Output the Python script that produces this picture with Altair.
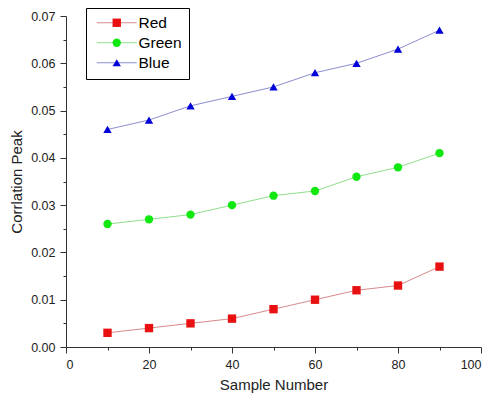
import altair as alt
import pandas as pd

samples = [10, 20, 30, 40, 50, 60, 70, 80, 90]
red = [0.003, 0.004, 0.005, 0.006, 0.008, 0.010, 0.012, 0.013, 0.017]
green = [0.026, 0.027, 0.028, 0.030, 0.032, 0.033, 0.036, 0.038, 0.041]
blue = [0.046, 0.048, 0.051, 0.053, 0.055, 0.058, 0.060, 0.063, 0.067]
series_names = ["Red", "Green", "Blue"]
line_colors = ["#d88a8a", "#8ee08e", "#8c8cd0"]
marker_colors = ["#e81010", "#10e810", "#0000d8"]
marker_shapes = ["square", "circle", "triangle-up"]

rows = []
for name, vals in zip(series_names, [red, green, blue]):
    for s, v in zip(samples, vals):
        rows.append({"sample": s, "value": v, "series": name, "line_series": name})
df = pd.DataFrame(rows)

FONT = "Liberation Sans"

x_vals = list(range(0, 101, 10))
y_vals = [round(i * 0.005, 3) for i in range(15)]

x_enc = alt.X(
    "sample:Q",
    scale=alt.Scale(domain=[0, 100], nice=False, zero=False),
    axis=alt.Axis(
        title="Sample Number",
        values=x_vals,
        labelExpr="datum.value % 20 === 0 ? datum.label : ''",
        tickSize={"condition": {"test": "datum.value % 20 !== 0", "value": 3}, "value": 6},
        grid=False,
        labelPadding=5,
        titlePadding=7,
    ),
)
y_enc = alt.Y(
    "value:Q",
    scale=alt.Scale(domain=[0, 0.07], nice=False),
    axis=alt.Axis(
        title="Corrlation Peak",
        values=y_vals,
        format=".2f",
        labelExpr="round(datum.value*1000) % 10 === 0 ? format(datum.value, '.2f') : ''",
        tickSize={"condition": {"test": "round(datum.value*1000) % 10 !== 0", "value": 3}, "value": 6},
        grid=False,
        labelPadding=5,
        titlePadding=6,
    ),
)

LEG_X = 20
LEG_Y = -8
LEG_PAD = 7
ROW_PAD = 3
SYM_OFF = 16
LAB_OFF = 14

lines = alt.Chart(df).mark_line(strokeWidth=1).encode(
    x=x_enc,
    y=y_enc,
    stroke=alt.Stroke(
        "line_series:N",
        sort=series_names,
        scale=alt.Scale(range=line_colors),
        legend=alt.Legend(
            title=None,
            orient="none",
            legendX=LEG_X,
            legendY=LEG_Y,
            symbolType="M-5,0H5",
            symbolSize=64,
            symbolStrokeWidth=1,
            symbolOffset=SYM_OFF,
            labelFont=FONT,
            labelFontSize=15.5,
            labelColor="black",
            labelOffset=LAB_OFF,
            rowPadding=ROW_PAD,
            padding=LEG_PAD,
            strokeColor="black",
            fillColor="white",
            zindex=1,
        ),
    ),
)

pt_legend = alt.Legend(
    title=None,
    orient="none",
    legendX=LEG_X,
    legendY=LEG_Y,
    symbolSize=70,
    symbolStrokeWidth=0,
    symbolOffset=SYM_OFF,
    labelFont=FONT,
    labelFontSize=15.5,
    labelOpacity=0,
    labelOffset=LAB_OFF,
    rowPadding=ROW_PAD,
    padding=LEG_PAD,
    zindex=2,
)

points = alt.Chart(df).mark_point(filled=True, size=70, opacity=1).encode(
    x=x_enc,
    y=y_enc,
    fill=alt.Fill(
        "series:N",
        scale=alt.Scale(domain=series_names, range=marker_colors),
        legend=pt_legend,
    ),
    shape=alt.Shape(
        "series:N",
        scale=alt.Scale(domain=series_names, range=marker_shapes),
        legend=pt_legend,
    ),
)

chart = (
    alt.layer(lines, points)
    .properties(
        width=415,
        height=331,
        autosize=alt.AutoSizeParams(type="none"),
        padding={"left": 58, "top": 8, "right": 2, "bottom": 47},
    )
    .configure_view(stroke=None)
    .configure_axis(
        domainColor="#333333",
        tickColor="#333333",
        labelFont=FONT,
        labelFontSize=12.5,
        labelColor="#222222",
        titleFont=FONT,
        titleFontSize=15,
        titleFontWeight="normal",
        titleColor="#222222",
    )
)

chart.save("out.html", embed_options={"renderer": "svg", "actions": False})
